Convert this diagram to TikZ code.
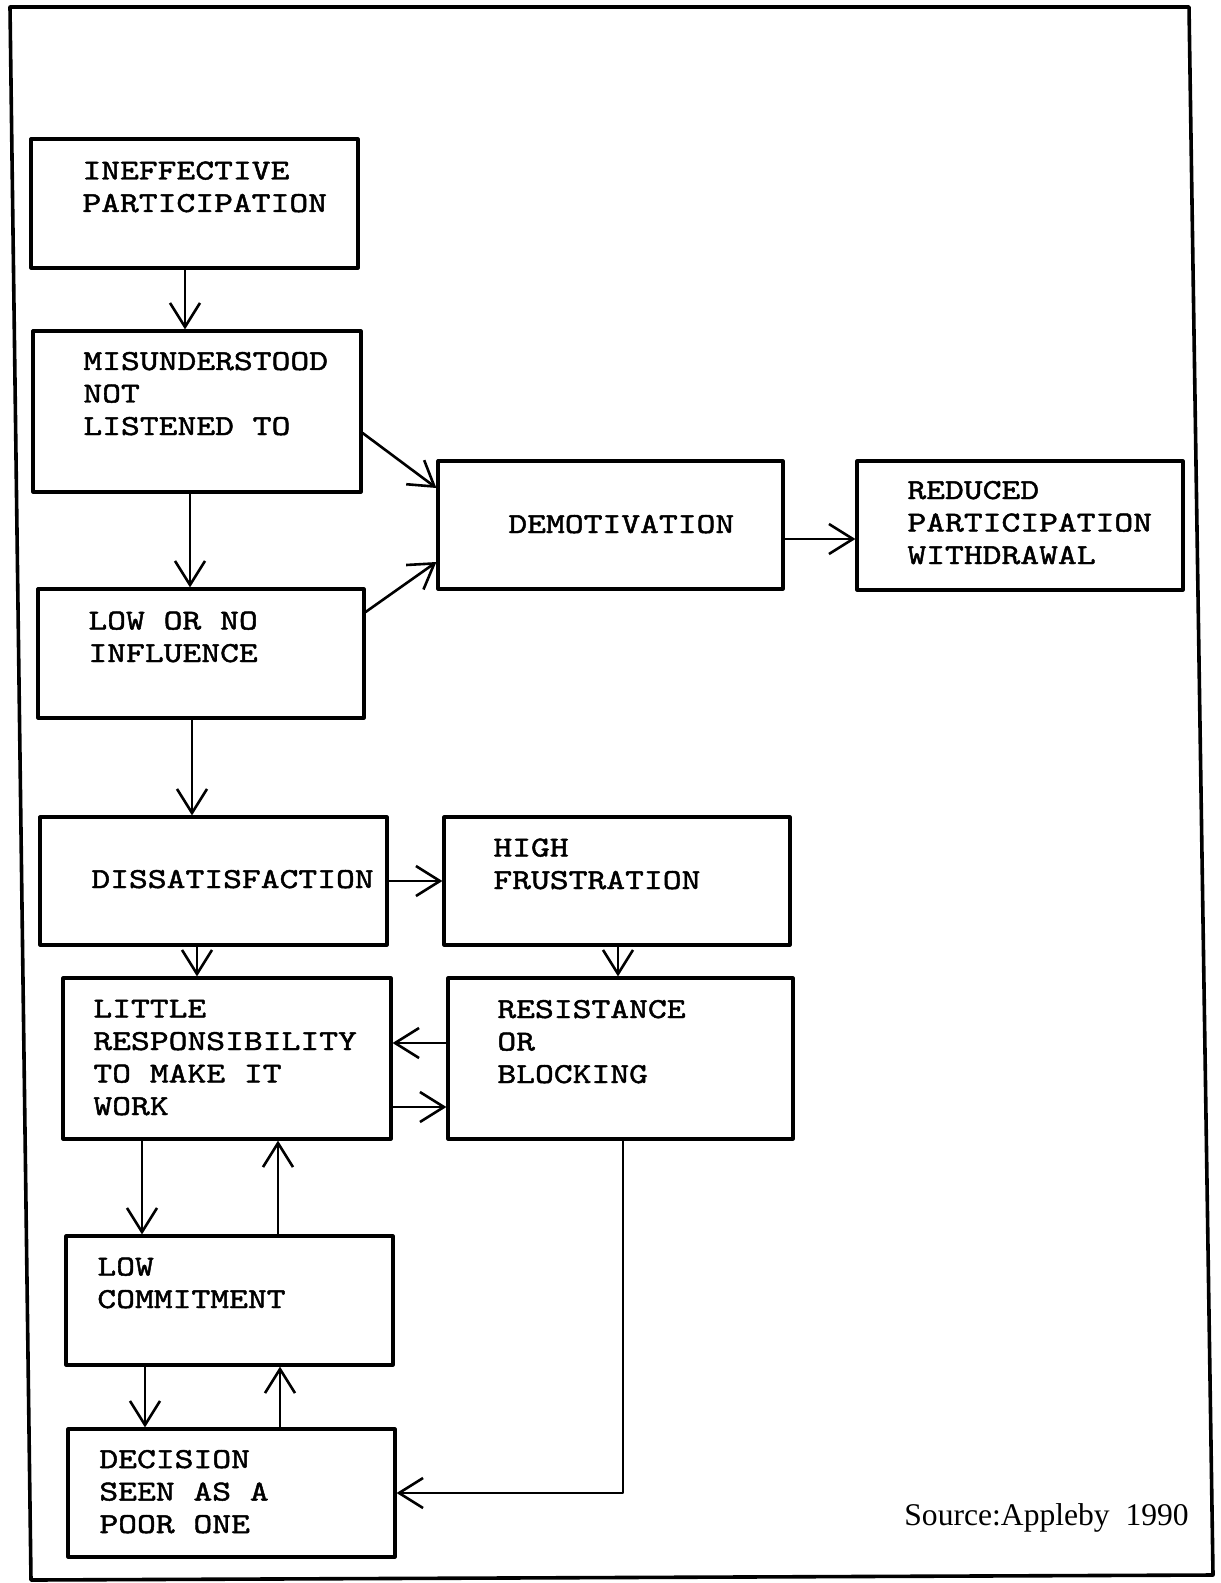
\documentclass[tikz,border=0pt]{standalone}
\usepackage{fontspec}
\setmainfont{Liberation Serif}
\newfontfamily\typefont[FakeStretch=1.236,FakeBold=1.6]{lmmono10-regular.otf}
\usetikzlibrary{arrows.meta,fit}

\begin{document}
\begin{tikzpicture}[line cap=round,line join=round,x=0.5pt,y=-0.5pt,
  >={Straight Barb[length=12pt,width=15pt]},
  box/.style={draw,line width=1.6pt,inner sep=0pt},
  lbl/.style={font=\typefont\fontsize{14.5}{16.25}\selectfont,align=left,inner sep=0pt,anchor=base west},
  arr/.style={->,line width=1.3pt}]
\useasboundingbox (0,0) rectangle (1220,1583);
% frame round the figure
\draw [line width=1.8pt] (10,7) -- (1189,7) -- (1213,1575) -- (31,1580) -- cycle;
% boxes (labels placed at the baseline of their last line)
\node[box,fit={(31,139) (358,268)}] (ineff) {};
\node[lbl] (ineff-t) at (82,212) {INEFFECTIVE\\PARTICIPATION};
\node[box,fit={(33,331) (361,492)}] (misund) {};
\node[lbl] (misund-t) at (83,435) {MISUNDERSTOOD\\NOT\\LISTENED TO};
\node[box,fit={(38,589) (364,718)}] (lowinf) {};
\node[lbl] (lowinf-t) at (88,662) {LOW OR NO\\INFLUENCE};
\node[box,fit={(438,461) (783,589)}] (demot) {};
\node[lbl] (demot-t) at (508,533) {DEMOTIVATION};
\node[box,fit={(857,461) (1183,590)}] (reduced) {};
\node[lbl] (reduced-t) at (907,564) {REDUCED\\PARTICIPATION\\WITHDRAWAL};
\node[box,fit={(40,817) (387,945)}] (dissat) {};
\node[lbl] (dissat-t) at (91,888) {DISSATISFACTION};
\node[box,fit={(444,817) (790,945)}] (frust) {};
\node[lbl] (frust-t) at (493,889) {HIGH\\FRUSTRATION};
\node[box,fit={(63,978) (391,1139)}] (little) {};
\node[lbl] (little-t) at (93,1115) {LITTLE\\RESPONSIBILITY\\TO MAKE IT\\WORK};
\node[box,fit={(448,978) (793,1139)}] (resist) {};
\node[lbl] (resist-t) at (497,1083) {RESISTANCE\\OR\\BLOCKING};
\node[box,fit={(66,1236) (393,1365)}] (lowcom) {};
\node[lbl] (lowcom-t) at (97,1308) {LOW\\COMMITMENT};
\node[box,fit={(68,1429) (395,1557)}] (decision) {};
\node[lbl] (decision-t) at (99,1533) {DECISION\\SEEN AS A\\POOR ONE};
% arrows
\draw[arr] (185,0 |- ineff.south) -- (185,0 |- misund.north);
\draw[arr] (misund.east |- 0,433) -- (demot.west |- 0,488);
\draw[arr] (lowinf.east |- 0,612) -- (demot.west |- 0,562);
\draw[arr] (190,0 |- misund.south) -- (190,0 |- lowinf.north);
\draw[arr] (demot.east |- 0,539) -- (reduced.west |- 0,539);
\draw[arr] (192,0 |- lowinf.south) -- (192,0 |- dissat.north);
\draw[arr] (dissat.east |- 0,881) -- (frust.west |- 0,881);
\draw[arr] (197,0 |- dissat.south) -- (197,0 |- little.north);
\draw[arr] (618,0 |- frust.south) -- (618,0 |- resist.north);
\draw[arr] (resist.west |- 0,1043) -- (little.east |- 0,1043);
\draw[arr] (little.east |- 0,1107) -- (resist.west |- 0,1107);
\draw[arr] (142,0 |- little.south) -- (142,0 |- lowcom.north);
\draw[arr] (278,0 |- lowcom.north) -- (278,0 |- little.south);
\draw[arr] (145,0 |- lowcom.south) -- (145,0 |- decision.north);
\draw[arr] (280,0 |- decision.north) -- (280,0 |- lowcom.south);
\draw[arr] (623,0 |- resist.south) |- (decision.east);
% source
\node[anchor=base west,inner sep=0pt,font=\fontsize{15.8}{18}\selectfont] (source) at (904,1525) {Source:Appleby\enspace 1990};
\end{tikzpicture}
\end{document}
